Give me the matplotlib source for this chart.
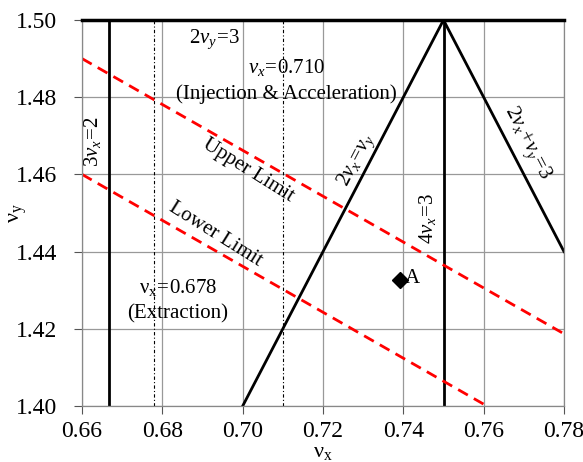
import matplotlib
matplotlib.use("Agg")
import numpy as np
import matplotlib.pyplot as plt

plt.rcParams['font.family'] = ['Liberation Serif', 'DejaVu Serif']
plt.rcParams['mathtext.fontset'] = 'custom'
plt.rcParams['mathtext.rm'] = 'Liberation Serif'
plt.rcParams['mathtext.it'] = 'Liberation Serif:italic'

# resonance lines
res_3nx_x = 2 / 3
res_4nx_x = 0.75
res_2ny_y = 1.5
diff_x = [0.70, 0.75]          # 2vx = vy
diff_y = [1.40, 1.50]
sum_x = [0.75, 0.78]           # 2vx + vy = 3
sum_y = [1.50, 1.44]

# tune limits
upper_x = [0.66, 0.78]
upper_y = [1.490, 1.4187]
lower_x = [0.66, 0.7608]
lower_y = [1.460, 1.400]

# working points
extract_x = 0.678
inject_x = 0.710
point_a = (0.7392, 1.4326)

xticks = [0.66, 0.68, 0.70, 0.72, 0.74, 0.76, 0.78]
yticks = [1.40, 1.42, 1.44, 1.46, 1.48, 1.50]

fig = plt.figure(figsize=(5.83, 4.62), dpi=100)
ax = fig.add_axes([0.1407, 0.1212, 0.8267, 0.8355])

ax.set_xlim(0.66, 0.78)
ax.set_ylim(1.40, 1.50)
ax.set_xticks(xticks)
ax.set_yticks(yticks)
ax.set_xticklabels([f"{v:.2f}" for v in xticks])
ax.set_yticklabels([f"{v:.2f}" for v in yticks])
ax.tick_params(labelsize=17, direction='out', length=6, color='#555555')
ax.tick_params(axis='y', pad=12)
ax.tick_params(axis='x', pad=5)
ax.grid(True, color='#999999', linewidth=0.9)
ax.set_axisbelow(True)
for s in ax.spines.values():
    s.set_color('#888888')
    s.set_linewidth(0.9)
ax.spines['top'].set_visible(False)

ax.axvline(res_3nx_x, color='black', lw=2)
ax.axvline(res_4nx_x, color='black', lw=2)
ax.axhline(res_2ny_y, color='black', lw=2.5, clip_on=False, zorder=5)
ax.plot(diff_x, diff_y, color='black', lw=2)
ax.plot(sum_x, sum_y, color='black', lw=2)

ax.plot(upper_x, upper_y, color='red', lw=2, ls=(0, (4, 2.5)))
ax.plot(lower_x, lower_y, color='red', lw=2, ls=(0, (4, 2.5)))

ax.axvline(extract_x, color='black', lw=0.8, ls=(0, (3, 2, 1, 2)))
ax.axvline(inject_x, color='black', lw=0.8, ls=(0, (3, 2, 1, 2)))

ax.plot(*point_a, marker='D', color='black', markersize=8)
ax.text(point_a[0] + 0.0012, point_a[1] + 0.0005, 'A', fontsize=15,
        va='center', ha='left')

fs = 15
ax.text(0.6627, 1.4684, r'$3\mathit{v_x}\!=\!2$', rotation=90, fontsize=fs,
        ha='center', va='center')
ax.text(0.6931, 1.4950, r'$2\mathit{v_y}\!=\!3$', fontsize=fs,
        ha='center', va='center')
ax.text(0.7110, 1.4878, r'$\mathit{v_x}\!=\!\mathrm{0.710}$', fontsize=fs,
        ha='center', va='center')
ax.text(0.7110, 1.4808, '(Injection & Acceleration)', fontsize=fs,
        ha='center', va='center')
ax.text(0.6839, 1.4306, r'$\mathrm{\nu_x}\!=\!\mathrm{0.678}$', fontsize=fs,
        ha='center', va='center')
ax.text(0.6839, 1.4240, '(Extraction)', fontsize=fs,
        ha='center', va='center')
ax.text(0.7013, 1.4611, 'Upper Limit', rotation=-32, fontsize=fs,
        ha='center', va='center')
ax.text(0.6931, 1.4445, 'Lower Limit', rotation=-32, fontsize=fs,
        ha='center', va='center')
ax.text(0.7285, 1.4637, r'$2\mathit{v_x}\!=\!\mathit{v_y}$', rotation=62.5,
        fontsize=fs, ha='center', va='center')
ax.text(0.7461, 1.4487, r'$4\mathit{v_x}\!=\!3$', rotation=90, fontsize=fs,
        ha='center', va='center')
ax.text(0.7708, 1.4681, r'$2\mathit{v_x}\!+\!\mathit{v_y}\!=\!3$',
        rotation=-62.5, fontsize=fs, ha='center', va='center')

ax.set_xlabel(r'$\mathrm{\nu_x}$', fontsize=16)
ax.set_ylabel(r'$\mathrm{\nu_y}$', fontsize=16)
ax.xaxis.set_label_coords(0.5, -0.095)
ax.yaxis.set_label_coords(-0.11, 0.5)

fig.savefig('out.png', dpi=100)
